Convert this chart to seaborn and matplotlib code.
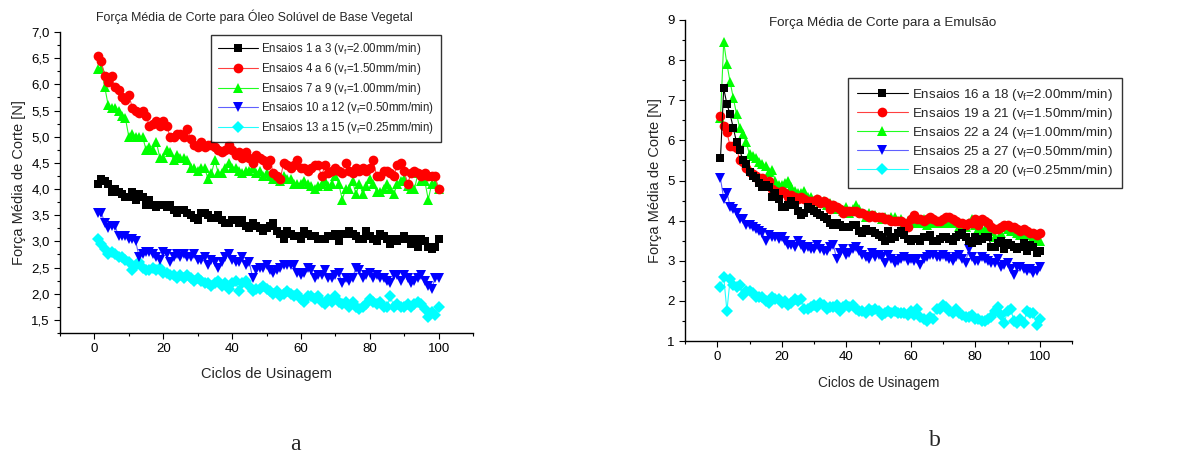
import matplotlib
matplotlib.use('Agg')
import matplotlib.pyplot as plt
from matplotlib.ticker import MultipleLocator, FuncFormatter
import numpy as np
import pandas as pd
import seaborn as sns

ciclos = list(range(1, 101))

# painel a - oleo soluvel de base vegetal
a_1a3 = [4.1, 4.2, 4.15, 4.1, 3.95, 4.0, 3.95, 3.9, 3.85, 3.85,
         3.95, 3.8, 3.9, 3.85, 3.7, 3.8, 3.7, 3.65, 3.7, 3.7,
         3.65, 3.7, 3.6, 3.55, 3.6, 3.6, 3.55, 3.5, 3.45, 3.4,
         3.55, 3.55, 3.5, 3.45, 3.45, 3.5, 3.4, 3.35, 3.35, 3.4,
         3.4, 3.35, 3.4, 3.3, 3.25, 3.35, 3.3, 3.25, 3.2, 3.25,
         3.3, 3.35, 3.2, 3.15, 3.05, 3.2, 3.15, 3.1, 3.1, 3.05,
         3.2, 3.15, 3.1, 3.1, 3.05, 3.05, 3.05, 3.1, 3.1, 3.15,
         3.0, 3.15, 3.15, 3.2, 3.15, 3.1, 3.05, 3.05, 3.2, 3.1,
         3.05, 3.0, 3.15, 3.1, 3.05, 2.95, 3.05, 3.0, 3.05, 3.1,
         3.05, 2.95, 3.05, 2.9, 3.05, 3.0, 2.9, 2.85, 2.9, 3.05]
a_4a6 = [6.55, 6.45, 6.15, 6.05, 6.15, 5.95, 5.9, 5.75, 5.7, 5.8,
         5.55, 5.5, 5.45, 5.5, 5.4, 5.2, 5.25, 5.3, 5.2, 5.3,
         5.2, 5.0, 5.0, 5.05, 5.05, 5.0, 5.15, 4.95, 4.85, 4.8,
         4.9, 4.8, 4.85, 4.85, 4.8, 4.75, 4.7, 4.75, 4.85, 4.75,
         4.65, 4.7, 4.6, 4.7, 4.6, 4.5, 4.65, 4.6, 4.55, 4.45,
         4.55, 4.3, 4.25, 4.2, 4.5, 4.45, 4.4, 4.45, 4.55, 4.4,
         4.4, 4.35, 4.4, 4.45, 4.45, 4.25, 4.45, 4.3, 4.35, 4.4,
         4.35, 4.3, 4.5, 4.35, 4.3, 4.4, 4.35, 4.4, 4.35, 4.4,
         4.55, 4.25, 4.25, 4.35, 4.35, 4.3, 4.25, 4.45, 4.5, 4.35,
         4.1, 4.3, 4.35, 4.3, 4.25, 4.3, 4.25, 4.25, 4.25, 4.0]
a_7a9 = [6.3, 6.3, 5.95, 5.6, 5.55, 5.55, 5.5, 5.4, 5.35, 5.0,
         5.05, 5.0, 5.0, 5.0, 4.75, 4.8, 4.75, 4.9, 4.6, 4.6,
         4.75, 4.7, 4.55, 4.65, 4.6, 4.6, 4.55, 4.4, 4.4, 4.35,
         4.4, 4.4, 4.2, 4.3, 4.55, 4.3, 4.3, 4.4, 4.5, 4.4,
         4.4, 4.35, 4.3, 4.35, 4.35, 4.4, 4.3, 4.35, 4.25, 4.3,
         4.25, 4.2, 4.2, 4.15, 4.25, 4.2, 4.2, 4.1, 4.1, 4.1,
         4.15, 4.1, 4.05, 4.0, 4.05, 4.1, 4.15, 4.05, 4.1, 4.25,
         4.1, 3.8, 4.0, 4.0, 4.15, 3.9, 4.1, 3.9, 4.05, 4.2,
         4.1, 3.95, 3.95, 4.0, 4.1, 4.0, 3.9, 4.1, 4.15, 4.2,
         4.05, 4.0, 4.0, 4.3, 4.15, 4.15, 3.8, 4.1, 4.1, 4.0]
a_10a12 = [3.55, 3.55, 3.35, 3.25, 3.3, 3.3, 3.1, 3.1, 3.1, 3.05,
           3.05, 3.0, 2.7, 2.75, 2.8, 2.8, 2.75, 2.7, 2.65, 2.8,
           2.75, 2.6, 2.7, 2.75, 2.7, 2.75, 2.7, 2.7, 2.75, 2.65,
           2.65, 2.7, 2.55, 2.65, 2.6, 2.5, 2.6, 2.7, 2.75, 2.65,
           2.6, 2.6, 2.7, 2.55, 2.6, 2.3, 2.45, 2.5, 2.5, 2.55,
           2.45, 2.4, 2.45, 2.5, 2.55, 2.55, 2.55, 2.55, 2.4, 2.35,
           2.4, 2.5, 2.45, 2.3, 2.35, 2.35, 2.45, 2.3, 2.3, 2.35,
           2.4, 2.2, 2.3, 2.25, 2.3, 2.5, 2.45, 2.3, 2.35, 2.4,
           2.3, 2.35, 2.3, 2.3, 2.25, 2.2, 2.35, 2.35, 2.25, 2.35,
           2.3, 2.2, 2.25, 2.3, 2.35, 2.25, 2.15, 2.1, 2.3, 2.3]
a_13a15 = [3.05, 2.95, 2.85, 2.75, 2.8, 2.75, 2.7, 2.7, 2.65, 2.6,
           2.45, 2.55, 2.6, 2.5, 2.45, 2.45, 2.5, 2.45, 2.5, 2.4,
           2.4, 2.35, 2.35, 2.3, 2.35, 2.3, 2.35, 2.3, 2.25, 2.3,
           2.25, 2.2, 2.2, 2.15, 2.2, 2.25, 2.15, 2.2, 2.1, 2.2,
           2.25, 2.05, 2.2, 2.25, 2.15, 2.05, 2.1, 2.1, 2.15, 2.1,
           2.05, 2.0, 2.05, 1.95, 2.0, 2.05, 2.0, 1.95, 2.0, 1.9,
           1.85, 1.95, 1.95, 1.9, 1.95, 1.85, 1.8, 1.9, 1.85, 1.95,
           1.85, 1.8, 1.85, 1.75, 1.85, 1.75, 1.7, 1.75, 1.8, 1.9,
           1.85, 1.8, 1.85, 1.75, 1.75, 1.95, 1.75, 1.8, 1.75, 1.75,
           1.8, 1.75, 1.8, 1.85, 1.8, 1.7, 1.55, 1.65, 1.6, 1.75]

# painel b - emulsao
b_16a18 = [5.55, 7.3, 6.9, 6.65, 6.3, 5.95, 5.75, 5.5, 5.4, 5.2,
           5.1, 5.05, 4.95, 4.85, 4.9, 4.85, 4.6, 4.7, 4.55, 4.35,
           4.35, 4.4, 4.5, 4.4, 4.25, 4.15, 4.2, 4.35, 4.3, 4.25,
           4.2, 4.15, 4.1, 4.05, 3.95, 3.9, 3.95, 3.9, 3.85, 3.85,
           3.85, 3.9, 3.9, 3.75, 3.7, 3.8, 3.75, 3.75, 3.7, 3.65,
           3.6, 3.5, 3.75, 3.55, 3.6, 3.7, 3.75, 3.65, 3.55, 3.5,
           3.55, 3.55, 3.5, 3.6, 3.6, 3.65, 3.5, 3.5, 3.55, 3.6,
           3.6, 3.55, 3.5, 3.6, 3.65, 3.7, 3.6, 3.5, 3.45, 3.6,
           3.5, 3.55, 3.6, 3.6, 3.35, 3.35, 3.45, 3.5, 3.3, 3.45,
           3.4, 3.35, 3.3, 3.35, 3.45, 3.25, 3.4, 3.35, 3.2, 3.25]
b_19a21 = [6.6, 6.35, 6.2, 5.85, 5.85, 5.8, 5.5, 5.45, 5.3, 5.2,
           5.15, 5.1, 5.0, 5.05, 4.95, 5.0, 4.8, 4.75, 4.7, 4.75,
           4.7, 4.6, 4.65, 4.6, 4.55, 4.6, 4.55, 4.5, 4.5, 4.5,
           4.55, 4.45, 4.5, 4.45, 4.3, 4.4, 4.35, 4.3, 4.2, 4.25,
           4.25, 4.25, 4.25, 4.2, 4.2, 4.15, 4.1, 4.15, 4.1, 4.1,
           4.1, 4.05, 4.05, 4.0, 4.0, 4.0, 4.0, 3.95, 3.85, 4.05,
           4.15, 4.05, 4.05, 4.0, 4.05, 4.1, 4.05, 4.0, 4.0, 4.05,
           4.1, 4.1, 4.05, 4.0, 3.95, 3.95, 3.9, 3.95, 3.95, 4.05,
           3.9, 4.05, 4.0, 3.95, 3.85, 3.8, 3.8, 3.85, 3.9, 3.9,
           3.85, 3.85, 3.8, 3.75, 3.8, 3.75, 3.7, 3.7, 3.65, 3.7]
b_22a24 = [6.55, 8.45, 7.9, 7.45, 7.05, 6.65, 6.3, 6.15, 5.95, 5.65,
           5.6, 5.55, 5.45, 5.4, 5.35, 5.2, 5.25, 5.0, 4.9, 4.9,
           4.95, 5.0, 4.85, 4.75, 4.7, 4.7, 4.75, 4.6, 4.6, 4.5,
           4.55, 4.45, 4.5, 4.4, 4.45, 4.4, 4.3, 4.3, 4.25, 4.35,
           4.2, 4.3, 4.4, 4.3, 4.2, 4.1, 4.2, 4.15, 4.15, 4.1,
           4.05, 4.1, 4.05, 4.1, 4.1, 4.0, 4.05, 3.95, 4.0, 4.05,
           4.0, 3.95, 3.95, 4.05, 3.9, 4.0, 3.95, 3.95, 3.95, 4.0,
           3.95, 3.95, 4.0, 3.95, 3.85, 3.9, 3.85, 3.95, 4.05, 3.9,
           3.8, 3.75, 3.8, 3.7, 3.75, 3.6, 3.8, 3.7, 3.85, 3.8,
           3.75, 3.75, 3.7, 3.65, 3.7, 3.65, 3.65, 3.6, 3.55, 3.5]
b_25a27 = [5.05, 4.55, 4.7, 4.35, 4.3, 4.2, 4.05, 4.05, 3.9, 3.9,
           3.85, 3.8, 3.75, 3.7, 3.5, 3.65, 3.6, 3.6, 3.55, 3.6,
           3.5, 3.4, 3.4, 3.35, 3.5, 3.4, 3.3, 3.35, 3.3, 3.3,
           3.4, 3.3, 3.25, 3.25, 3.35, 3.4, 3.05, 3.2, 3.3, 3.15,
           3.2, 3.3, 3.35, 3.25, 3.15, 3.1, 3.05, 3.2, 3.1, 3.15,
           3.1, 2.95, 3.15, 3.05, 2.95, 3.0, 3.05, 3.1, 3.0, 3.05,
           3.0, 3.05, 2.9, 3.05, 3.1, 3.15, 3.15, 3.1, 3.1, 3.15,
           3.1, 3.05, 3.0, 3.1, 3.15, 3.05, 2.95, 3.3, 3.1, 3.0,
           3.0, 3.1, 3.05, 3.0, 2.95, 2.95, 3.05, 2.85, 2.9, 2.95,
           2.8, 2.65, 2.85, 2.85, 2.8, 2.75, 2.8, 2.7, 2.75, 2.85]
b_28a20 = [2.35, 2.6, 1.75, 2.55, 2.4, 2.35, 2.4, 2.15, 2.25, 2.25,
           2.2, 2.1, 2.1, 2.1, 2.0, 1.95, 2.1, 2.05, 2.05, 1.95,
           2.0, 1.9, 1.95, 2.05, 2.0, 2.05, 1.8, 1.8, 1.85, 1.9,
           1.85, 1.95, 1.9, 1.8, 1.85, 1.85, 1.9, 1.75, 1.85, 1.9,
           1.85, 1.9, 1.8, 1.75, 1.75, 1.7, 1.8, 1.75, 1.8, 1.75,
           1.65, 1.7, 1.75, 1.7, 1.75, 1.7, 1.7, 1.7, 1.65, 1.75,
           1.65, 1.8, 1.6, 1.55, 1.5, 1.6, 1.55, 1.8, 1.8, 1.9,
           1.85, 1.75, 1.7, 1.8, 1.7, 1.65, 1.6, 1.6, 1.65, 1.55,
           1.55, 1.5, 1.5, 1.55, 1.6, 1.75, 1.85, 1.65, 1.45, 1.75,
           1.8, 1.5, 1.45, 1.55, 1.45, 1.75, 1.7, 1.7, 1.4, 1.55]

rotulos_a = ['Ensaios 1 a 3', 'Ensaios 4 a 6', 'Ensaios 7 a 9',
             'Ensaios 10 a 12', 'Ensaios 13 a 15']
rotulos_b = ['Ensaios 16 a 18', 'Ensaios 19 a 21', 'Ensaios 22 a 24',
             'Ensaios 25 a 27', 'Ensaios 28 a 20']
vf = ['2.00', '1.50', '1.00', '0.50', '0.25']

cores = ['#000000', '#ff0000', '#00ff00', '#0000ff', '#00ffff']
linhas = ['#000000', '#ff4040', '#20ff20', '#6060ff', '#20ffff']
marcadores = ['s', 'o', '^', 'v', 'D']
tamanhos = [6, 7, 7, 7, 6]

sns.set_style('ticks')
plt.rcParams['font.family'] = ['Liberation Sans', 'DejaVu Sans']
plt.rcParams['mathtext.fontset'] = 'custom'
plt.rcParams['mathtext.rm'] = 'Liberation Sans'
plt.rcParams['mathtext.it'] = 'Liberation Sans:italic'

fig = plt.figure(figsize=(11.96, 4.57), dpi=100)
W, H = 1196, 457
ax_a = fig.add_axes([60 / W, (H - 333) / H, 413 / W, 301 / H])
ax_b = fig.add_axes([685 / W, (H - 341) / H, 387 / W, 321 / H])


def desenha(ax, series, rotulos):
    for i, vals in enumerate(series):
        lab = rotulos[i] + r' (v$_\mathrm{f}$=' + vf[i] + 'mm/min)'
        sns.lineplot(x=ciclos, y=vals, ax=ax, color=linhas[i], lw=0.8,
                     marker=marcadores[i], markersize=tamanhos[i],
                     markerfacecolor=cores[i], markeredgecolor=cores[i],
                     markeredgewidth=0, label=lab, zorder=2.5 - 0.1 * i)
    ax.set_xlim(-10, 110)
    ax.xaxis.set_minor_locator(MultipleLocator(10))
    ax.set_xticks([0, 20, 40, 60, 80, 100])
    ax.tick_params(which='both', direction='out', colors='black',
                   labelsize=9.5, width=0.8)
    ax.tick_params(which='major', length=4)
    ax.tick_params(which='minor', length=2.5)
    for s in ['left', 'bottom']:
        ax.spines[s].set_linewidth(1.0)
        ax.spines[s].set_color('black')
    sns.despine(ax=ax)


desenha(ax_a, [a_1a3, a_4a6, a_7a9, a_10a12, a_13a15], rotulos_a)
desenha(ax_b, [b_16a18, b_19a21, b_22a24, b_25a27, b_28a20], rotulos_b)

ax_a.set_ylim(1.25, 7.0)
ax_a.yaxis.set_minor_locator(MultipleLocator(0.25))
ax_a.set_yticks(np.arange(1.5, 7.01, 0.5))
ax_a.yaxis.set_major_formatter(FuncFormatter(lambda v, p: f'{v:.1f}'.replace('.', ',')))
ax_a.set_xlabel('Ciclos de Usinagem', fontsize=10.5, labelpad=8)
ax_a.set_ylabel('Força Média de Corte [N]', fontsize=10.5, labelpad=4)
ax_a.text(0.47, 1.05, 'Força Média de Corte para Óleo Solúvel de Base Vegetal',
          transform=ax_a.transAxes, ha='center', va='center', fontsize=8.9)

ax_b.set_ylim(1, 9)
ax_b.yaxis.set_major_locator(MultipleLocator(1))
ax_b.yaxis.set_minor_locator(MultipleLocator(0.5))
ax_b.set_xlabel('Ciclos de Usinagem', fontsize=9.8, labelpad=9)
ax_b.set_ylabel('Força Média de Corte [N]', fontsize=10.5, labelpad=4)
ax_b.text(0.51, 0.99, 'Força Média de Corte para a Emulsão',
          transform=ax_b.transAxes, ha='center', va='center', fontsize=9.6)

legendas = [(ax_a, (0.922, 0.99), 8.3, 3.5, 0.55, 0.32),
            (ax_b, (1.129, 0.82), 9.6, 3.8, 0.7, 0.22)]
for ax, anc, fs, hl, bp, ls in legendas:
    leg = ax.legend(loc='upper right', bbox_to_anchor=anc, fontsize=fs,
                    frameon=True, fancybox=False, handlelength=hl,
                    handletextpad=0.3, borderpad=bp, labelspacing=ls,
                    borderaxespad=0)
    leg.get_frame().set_edgecolor('black')
    leg.get_frame().set_linewidth(1.0)
    leg.set_zorder(10)

fig.text(295 / W, 1 - 445 / H, 'a', family='Liberation Serif', fontsize=17,
         ha='center', va='center')
fig.text(935 / W, 1 - 440 / H, 'b', family='Liberation Serif', fontsize=17,
         ha='center', va='center')

fig.savefig('out.png', dpi=100)
